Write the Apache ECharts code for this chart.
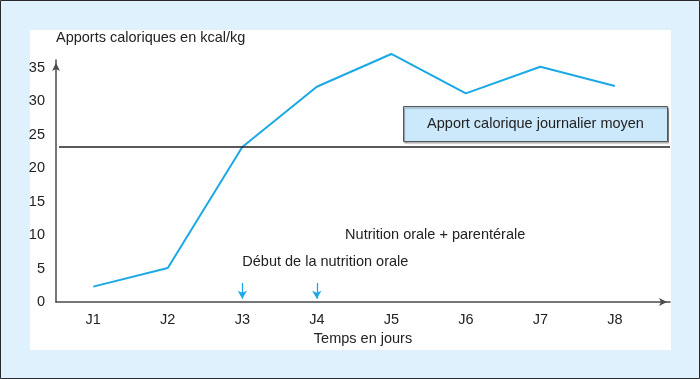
<!DOCTYPE html>
<html>
<head>
<meta charset="utf-8">
<script src="https://cdn.jsdelivr.net/npm/echarts@6/dist/echarts.min.js"></script>
<style>
  html, body { margin: 0; padding: 0; background: #dff1fc; }
  #chart { width: 700px; height: 379px; }
</style>
</head>
<body>
<div id="chart"></div>
<script>
// ---- data ----
const categories = ['J1', 'J2', 'J3', 'J4', 'J5', 'J6', 'J7', 'J8'];
const dayIndex = [1, 2, 3, 4, 5, 6, 7, 8];
const intake = [2.3, 5.1, 23.2, 32.2, 37.1, 31.2, 35.2, 32.3];
const meanDaily = 23.25;
const yTicks = [0, 5, 10, 15, 20, 25, 30, 35];
const arrowDays = [3, 4];
const yTitle = 'Apports caloriques en kcal/kg';
const xTitle = 'Temps en jours';
const meanLabel = 'Apport calorique journalier moyen';
const notes = [
  { day: 3, y: 6.0, text: 'Début de la nutrition orale' },
  { day: 4.38, y: 10.0, text: 'Nutrition orale + parentérale' }
];

const font = 'Liberation Sans, Arial, Helvetica, sans-serif';
const fs = 14.5;
const blue = '#1ba8e6';
const axisColor = '#4a4a4a';

const chart = echarts.init(document.getElementById('chart'), null, { renderer: 'canvas' });

const markLineData = [
  [
    { coord: [0.54, meanDaily], symbol: 'none' },
    { coord: [8.74, meanDaily], symbol: 'none', lineStyle: { color: '#222', width: 1.5, type: 'solid' } }
  ]
];
arrowDays.forEach(d => {
  markLineData.push([
    { coord: [d, 2.85], symbol: 'none' },
    { coord: [d, 0.5], symbol: 'arrow', symbolSize: [7, 8], lineStyle: { color: blue, width: 1.3, type: 'solid' } }
  ]);
});

const option = {
  animation: false,
  backgroundColor: '#dff1fc',
  textStyle: { fontFamily: font },
  graphic: [
    { type: 'rect', z: -10, silent: true, shape: { x: 30, y: 30, width: 641, height: 320 }, style: { fill: '#ffffff' } },
    { type: 'rect', z: -10, silent: true, shape: { x: 0.5, y: 0.5, width: 699, height: 378 }, style: { fill: 'none', stroke: '#2a2a2a', lineWidth: 1 } },
    { type: 'rect', z: 10, shape: { x: 403.5, y: 106.5, width: 264, height: 35 },
      style: { fill: '#cbe9fb', stroke: '#555', lineWidth: 1, shadowColor: 'rgba(0,0,0,0.35)', shadowOffsetX: 1, shadowOffsetY: 1.5, shadowBlur: 1 } },
    { type: 'text', z: 11, x: 535.5, y: 124, style: { text: meanLabel, fontFamily: font, fontSize: fs, fill: '#222', align: 'center', verticalAlign: 'middle' } }
  ],
  grid: { left: 56, right: 30, top: 60, bottom: 77, containLabel: false },
  xAxis: {
    type: 'value',
    min: 0.5,
    max: 8.74,
    name: xTitle,
    nameLocation: 'middle',
    nameGap: 29,
    nameTextStyle: { fontSize: fs, color: '#222', fontFamily: font },
    axisLine: { show: true, onZero: false, symbol: ['none', 'arrow'], symbolSize: [6, 8], symbolOffset: [0, -3], lineStyle: { color: axisColor, width: 1.5 } },
    axisTick: { show: false },
    splitLine: { show: false },
    axisLabel: {
      customValues: dayIndex,
      formatter: v => categories[Math.round(v) - 1] || '',
      fontSize: fs, color: '#222', margin: 10, fontFamily: font
    }
  },
  yAxis: {
    type: 'value',
    min: 0,
    max: 36.2,
    name: yTitle,
    nameLocation: 'end',
    nameGap: 15,
    nameTextStyle: { fontSize: fs, color: '#222', align: 'left', fontFamily: font },
    axisLine: { show: true, onZero: false, symbol: ['none', 'arrow'], symbolSize: [6, 8], symbolOffset: [0, -3], lineStyle: { color: axisColor, width: 1.5 } },
    axisTick: { show: false },
    splitLine: { show: false },
    axisLabel: {
      customValues: yTicks,
      fontSize: fs, color: '#222', margin: 11, fontFamily: font
    }
  },
  series: [{
    type: 'line',
    data: dayIndex.map((d, i) => [d, intake[i]]),
    clip: false,
    showSymbol: false,
    symbol: 'none',
    lineStyle: { color: blue, width: 2 },
    itemStyle: { color: blue },
    markLine: {
      silent: true,
      animation: false,
      label: { show: false },
      lineStyle: { color: '#222', width: 1.5, type: 'solid' },
      data: markLineData
    },
    markPoint: {
      silent: true,
      animation: false,
      symbol: 'circle',
      symbolSize: 0,
      data: notes.map(n => ({
        coord: [n.day, n.y],
        value: n.text,
        label: { show: true, position: 'right', distance: 0, formatter: n.text, fontSize: fs, color: '#222', fontFamily: font }
      }))
    }
  }]
};

chart.setOption(option);
</script>
</body>
</html>
